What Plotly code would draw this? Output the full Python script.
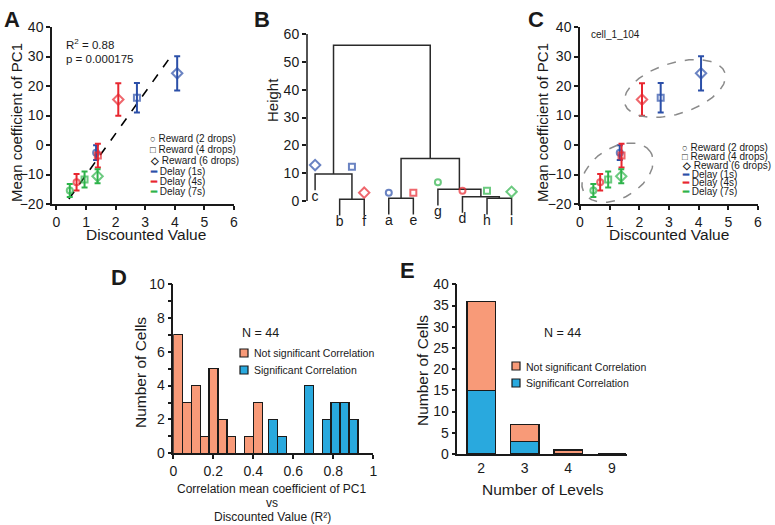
import numpy as np
import plotly.graph_objects as go

W, H = 775, 525
FONT = "Liberation Sans"
INK = "#1a1a1a"

# ---------------- data ----------------
delay_names = ["Delay (1s)", "Delay (4s)", "Delay (7s)"]
reward_names = ["Reward (2 drops)", "Reward (4 drops)", "Reward (6 drops)"]
delay_colors = ["#2b4fa8", "#e8262f", "#2db34a"]
reward_symbols = ["circle-open", "square-open", "diamond-open"]

dv_1s = [1.34, 2.72, 4.08]
pc1_1s = [-2.6, 16.0, 24.3]
err_1s = [2.5, 5.0, 5.8]
dv_4s = [0.68, 1.40, 2.09]
pc1_4s = [-12.6, -3.6, 15.4]
err_4s = [2.8, 4.0, 5.5]
dv_7s = [0.45, 0.95, 1.39]
pc1_7s = [-15.4, -11.7, -10.6]
err_7s = [2.2, 2.7, 2.4]

fit_x = [0.42, 3.94]
fit_y = [-18.3, 31.1]
r2_text = "R<sup>2</sup> = 0.88"
p_text = "p = 0.000175"

# dendrogram
leaf_names = ["c", "b", "f", "a", "e", "g", "d", "h", "i"]
merges = [("b", "f", 0.6), ("c", 0, 9.7), ("a", "e", 0.95), ("h", "i", 0.95),
          ("d", 3, 1.55), ("g", 4, 4.2), (2, 5, 15.3), (1, 6, 56.0)]
leaf_hang = 5.8
dend_mark_x = [0, 1.5, 2, 3, 4, 5, 6, 7, 8]
dend_mark_h = [12.9, 12.3, 3.0, 3.0, 3.0, 6.7, 3.7, 3.7, 3.3]
dend_mark_delay = [0, 0, 1, 0, 1, 2, 1, 2, 2]
dend_mark_reward = [2, 1, 2, 0, 1, 0, 0, 1, 2]

# ellipses in C (center, half-axis vectors)
ell_upper = dict(c=(3.20, 19.15), u=(1.684, 5.34), v=(-0.258, 8.24))
ell_lower = dict(c=(1.264, -9.39), u=(1.115, 7.0), v=(-0.447, 7.19))

# histogram D
bin_w = 0.0447
notsig_counts = [7, 3, 4, 1, 5, 2, 1, 0, 1, 3]
notsig_start = 0.0
sig_counts = [2, 1, 0, 0, 4, 0, 2, 3, 3, 2]
sig_start = 0.476

# stacked E
levels = ["2", "3", "4", "9"]
sig_E = [15, 3, 0, 0]
notsig_E = [21, 4, 1, 0]

orange = "#f89a78"
blue = "#29a9de"

# ---------------- helpers ----------------
def fx(px):
    return px / W

def fy(py):
    return 1 - py / H

fig = go.Figure()

axis_common = dict(showline=True, linecolor=INK, linewidth=1.5, ticks="outside",
                   ticklen=4, tickwidth=1.5, tickcolor=INK, showgrid=False,
                   zeroline=False, automargin=False,
                   tickfont=dict(family=FONT, size=14, color=INK))

# ---------------- A & C scatter ----------------
groups = [(dv_1s, pc1_1s, err_1s), (dv_4s, pc1_4s, err_4s), (dv_7s, pc1_7s, err_7s)]
for xa, ya in [("x", "y"), ("x3", "y3")]:
    if xa == "x":
        fig.add_trace(go.Scatter(x=fit_x, y=fit_y, mode="lines", xaxis=xa, yaxis=ya,
                                 line=dict(color="black", width=1.6, dash="dash"),
                                 hoverinfo="skip"))
    for gi, (dx, dy, de) in enumerate(groups):
        col = delay_colors[gi]
        fig.add_trace(go.Scatter(
            x=dx, y=dy, mode="markers", xaxis=xa, yaxis=ya, name=delay_names[gi],
            marker=dict(symbol=reward_symbols, size=[6, 6, 8], color=col,
                        line=dict(width=2, color=col)),
            error_y=dict(type="data", array=de, color=col, thickness=2, width=3)))

# ellipses
t = np.linspace(0, 2 * np.pi, 200)
for e in (ell_upper, ell_lower):
    ex = e["c"][0] + np.cos(t) * e["u"][0] + np.sin(t) * e["v"][0]
    ey = e["c"][1] + np.cos(t) * e["u"][1] + np.sin(t) * e["v"][1]
    fig.add_trace(go.Scatter(x=ex, y=ey, mode="lines", xaxis="x3", yaxis="y3",
                             line=dict(color="#8a8a8a", width=1.5, dash="dash"),
                             hoverinfo="skip"))

# ---------------- B dendrogram ----------------
pos = {n: i for i, n in enumerate(leaf_names)}
node_x, node_h = [], []
seg_x, seg_y = [], []
leaf_bottom = {}
for l, r, h in merges:
    ends = []
    for ch in (l, r):
        if isinstance(ch, str):
            b = h - leaf_hang
            leaf_bottom[ch] = b
            ends.append((pos[ch], b))
        else:
            ends.append((node_x[ch], node_h[ch]))
    (xl, bl), (xr, br) = ends
    seg_x += [xl, xl, xr, xr, None]
    seg_y += [bl, h, h, br, None]
    node_x.append((xl + xr) / 2)
    node_h.append(h)

fig.add_trace(go.Scatter(x=seg_x, y=seg_y, mode="lines", xaxis="x2", yaxis="y2",
                         line=dict(color="#2a2a2a", width=1.5), hoverinfo="skip"))
fig.add_trace(go.Scatter(x=[pos[n] for n in leaf_names],
                         y=[leaf_bottom[n] for n in leaf_names],
                         mode="text", text=leaf_names, textposition="bottom center",
                         textfont=dict(family=FONT, size=14, color=INK),
                         xaxis="x2", yaxis="y2", hoverinfo="skip"))
fig.add_trace(go.Scatter(
    x=dend_mark_x, y=dend_mark_h, mode="markers", xaxis="x2", yaxis="y2",
    marker=dict(symbol=[reward_symbols[k] for k in dend_mark_reward],
                size=[8 if k == 2 else 6 for k in dend_mark_reward],
                color=[delay_colors[k] for k in dend_mark_delay],
                line=dict(width=2, color=[delay_colors[k] for k in dend_mark_delay]))))

# ---------------- D histogram ----------------
ns_centers = [notsig_start + (k + 0.5) * bin_w for k in range(len(notsig_counts))]
s_centers = [sig_start + (k + 0.5) * bin_w for k in range(len(sig_counts))]
fig.add_trace(go.Bar(x=ns_centers, y=notsig_counts, width=bin_w, xaxis="x4", yaxis="y4",
                     marker=dict(color=orange, line=dict(color=INK, width=1.2))))
fig.add_trace(go.Bar(x=s_centers, y=sig_counts, width=bin_w, xaxis="x4", yaxis="y4",
                     marker=dict(color=blue, line=dict(color=INK, width=1.2))))

# ---------------- E stacked ----------------
e_pos = list(range(len(levels)))
fig.add_trace(go.Bar(x=e_pos, y=sig_E, width=0.65, xaxis="x5", yaxis="y5",
                     marker=dict(color=blue, line=dict(color=INK, width=1.5))))
fig.add_trace(go.Bar(x=e_pos, y=notsig_E, width=0.65, xaxis="x5", yaxis="y5",
                     marker=dict(color=orange, line=dict(color=INK, width=1.5))))

# ---------------- axes ----------------
lay = dict(width=W, height=H, margin=dict(l=0, r=0, t=0, b=0, pad=0, autoexpand=False),
           paper_bgcolor="white", plot_bgcolor="white", showlegend=False,
           barmode="stack", font=dict(family=FONT, color=INK))

lay["xaxis"] = dict(axis_common, domain=[fx(52), fx(234)], range=[-0.15, 6.0],
                    tickvals=list(range(7)), anchor="y")
lay["yaxis"] = dict(axis_common, domain=[fy(204), fy(27)], range=[-20, 40],
                    tickvals=list(range(-20, 41, 10)), anchor="x")
lay["xaxis2"] = dict(domain=[fx(307), fx(530)], range=[-0.33, 8.75], visible=False,
                     anchor="y2", automargin=False)
lay["yaxis2"] = dict(axis_common, domain=[fy(201 + 10 * 2.783), fy(34)], range=[-10, 60],
                     tickvals=list(range(0, 61, 10)), showline=False, anchor="x2")
lay["xaxis3"] = dict(axis_common, domain=[fx(580), fx(758)], range=[0, 6.0],
                     tickvals=list(range(7)), anchor="y3")
lay["yaxis3"] = dict(axis_common, domain=[fy(204), fy(27)], range=[-20, 40],
                     tickvals=list(range(-20, 41, 10)), anchor="x3")
lay["xaxis4"] = dict(axis_common, domain=[fx(173.3), fx(373.3)], range=[0, 1],
                     tickvals=[0, 0.2, 0.4, 0.6, 0.8, 1],
                     ticktext=["0", "0.2", "0.4", "0.6", "0.8", "1"], anchor="y4")
lay["yaxis4"] = dict(axis_common, domain=[fy(453.3), fy(284)], range=[0, 10],
                     tickvals=list(range(0, 11, 2)), anchor="x4",
                     minor=dict(dtick=1, ticks="outside", ticklen=4, tickwidth=1.5,
                                tickcolor=INK))
lay["xaxis5"] = dict(axis_common, domain=[fx(457.3), fx(627)], range=[-0.55, 3.35],
                     tickvals=e_pos, ticktext=levels, ticks="", anchor="y5")
lay["yaxis5"] = dict(axis_common, domain=[fy(454), fy(284.3)], range=[0, 40],
                     tickvals=list(range(0, 41, 5)), anchor="x5")
fig.update_layout(**lay)

# ---------------- shapes ----------------
shapes = [dict(type="line", xref="x2 domain", yref="y2", x0=0, x1=0, y0=0, y1=60,
               line=dict(color=INK, width=1.5))]

def box(x0, y0, x1, y1, col):
    shapes.append(dict(type="rect", xref="paper", yref="paper", x0=fx(x0), x1=fx(x1),
                       y0=fy(y1), y1=fy(y0), fillcolor=col,
                       line=dict(color=INK, width=1.2)))

box(240, 349, 248, 357, orange)
box(240, 366, 248, 374, blue)
box(512, 362, 520, 370, orange)
box(512, 379, 520, 387, blue)
fig.update_layout(shapes=shapes)

# ---------------- annotations ----------------
ann = []

def text(x, y, s, size, xanchor="left", yanchor="middle", angle=0):
    ann.append(dict(x=fx(x), y=fy(y), xref="paper", yref="paper", text=s,
                    showarrow=False, xanchor=xanchor, yanchor=yanchor, textangle=angle,
                    font=dict(family=FONT, size=size, color=INK)))

# panel letters
text(2, 5, "<b>A</b>", 22, yanchor="top")
text(252, 5, "<b>B</b>", 22, yanchor="top")
text(526, 5, "<b>C</b>", 22, yanchor="top")
text(109, 263, "<b>D</b>", 22, yanchor="top")
text(398, 256, "<b>E</b>", 22, yanchor="top")

# axis titles
text(146, 235, "Discounted Value", 15.5, xanchor="center")
text(16, 123, "Mean coefficient of PC1", 15, xanchor="center", angle=-90)
text(669, 235, "Discounted Value", 15.5, xanchor="center")
text(542, 123, "Mean coefficient of PC1", 15, xanchor="center", angle=-90)
text(272, 100, "Height", 15, xanchor="center", angle=-90)
text(140, 373, "Number of Cells", 15.5, xanchor="center", angle=-90)
text(272, 489, "Correlation mean coefficient of PC1", 12, xanchor="center")
text(272, 503, "vs", 12, xanchor="center")
text(272, 517, "Discounted Value (R²)", 12, xanchor="center")
text(422, 371, "Number of Cells", 15.5, xanchor="center", angle=-90)
text(543, 489, "Number of Levels", 15.5, xanchor="center")

# A stats
text(64, 44, r2_text, 11.5)
text(64, 59, p_text, 11.5)
# C label
text(589, 35, "cell_1_104", 10)

# A / C legends
glyphs = ["○", "□", "◇"]
def legend_ac(x, ys, size):
    for k in range(3):
        text(x, ys[k], "<span style='font-size:9.5px'><b>" + glyphs[k] +
             "</b></span> " + reward_names[k], size)
    for k in range(3):
        text(x, ys[3 + k], "<span style='color:" + delay_colors[k] +
             "'><b>━</b></span> " + delay_names[k], size)

legend_ac(148, [138.5, 149.5, 160.5, 171.5, 181.5, 191.5], 10)
legend_ac(680, [147, 156, 165, 174, 183, 192], 10)

# D / E legends
text(240, 333, "N = 44", 12.5)
text(251.5, 353, "Not significant Correlation", 10.5)
text(251.5, 370, "Significant Correlation", 10.5)
text(562, 333, "N = 44", 12.5, xanchor="center")
text(524, 366.5, "Not significant Correlation", 10.5)
text(524, 383, "Significant Correlation", 10.5)

fig.update_layout(annotations=ann)
fig.write_html("out.html", config={"displayModeBar": False},
               post_script="document.body.style.margin='0';document.body.style.padding='0';")
